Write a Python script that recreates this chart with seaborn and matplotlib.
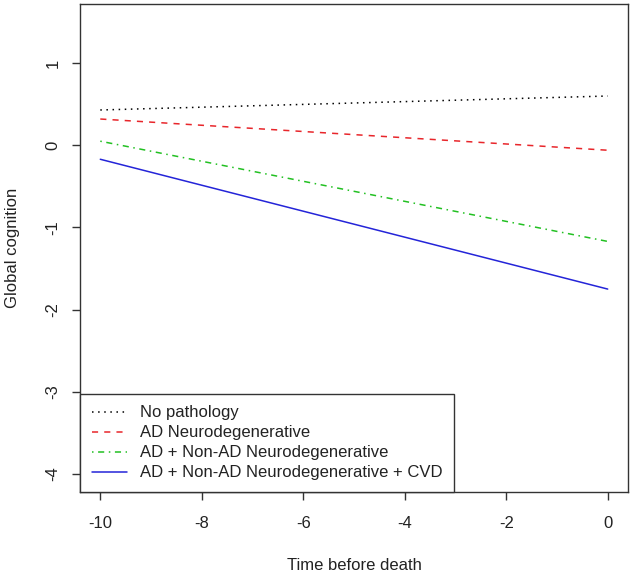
import matplotlib
matplotlib.use("Agg")
import matplotlib.pyplot as plt
import seaborn as sns
import pandas as pd

# Data
time = [-10, 0]
no_pathology = [0.43, 0.60]
ad_neuro = [0.32, -0.06]
ad_nonad = [0.05, -1.17]
ad_nonad_cvd = [-0.17, -1.75]

labels = ["No pathology", "AD Neurodegenerative",
          "AD + Non-AD Neurodegenerative", "AD + Non-AD Neurodegenerative + CVD"]
series = [no_pathology, ad_neuro, ad_nonad, ad_nonad_cvd]
colors = ["black", "#E8262B", "#22C022", "#2424D8"]
styles = [(0, (1, 3)), (0, (4, 4)), (0, (1, 3, 4, 3)), "-"]

x_ticks = [-10, -8, -6, -4, -2, 0]
y_ticks = [-4, -3, -2, -1, 0, 1]

sns.set_style("ticks")
plt.rcParams["font.family"] = ["Liberation Sans", "DejaVu Sans"]

fig = plt.figure(figsize=(6.33, 5.72), dpi=100)
ax = fig.add_axes([80 / 633, 1 - 492 / 572, 548 / 633, 488 / 572])

for lab, vals, c, ls in zip(labels, series, colors, styles):
    df = pd.DataFrame({"time": time, "value": vals})
    sns.lineplot(data=df, x="time", y="value", ax=ax, color=c,
                 linestyle=ls, linewidth=1.1, label=lab)

ax.set_xlim(-10.4, 0.4)
ax.set_ylim(-4.22, 1.72)
ax.set_xticks(x_ticks)
ax.set_yticks(y_ticks)
ax.set_xticklabels([str(v) for v in x_ticks])
ax.set_yticklabels([str(v) for v in y_ticks])
plt.setp(ax.get_yticklabels(), rotation=90, va="center")

for s in ax.spines.values():
    s.set_visible(True)
    s.set_color("#333333")
    s.set_linewidth(1.0)

ax.tick_params(axis="both", direction="out", length=6, width=1.0,
               color="#333333", labelsize=12, labelcolor="#222222")
ax.tick_params(axis="x", pad=11)
ax.tick_params(axis="y", pad=8)

ax.set_xlabel("Time before death", fontsize=12, color="#222222")
ax.set_ylabel("Global cognition", fontsize=12, color="#222222")
ax.xaxis.set_label_coords(0.5, -0.135)
ax.yaxis.set_label_coords(-0.11, 0.5)

leg = ax.legend(loc="lower left", bbox_to_anchor=(0, 0), borderaxespad=0,
                fontsize=12, frameon=True, fancybox=False, handlelength=2.1,
                handletextpad=0.8, labelspacing=0.3, borderpad=0.7)
frame = leg.get_frame()
frame.set_edgecolor("#333333")
frame.set_linewidth(1.0)
frame.set_alpha(1)
for t in leg.get_texts():
    t.set_color("#222222")

fig.savefig("out.png", dpi=100)
